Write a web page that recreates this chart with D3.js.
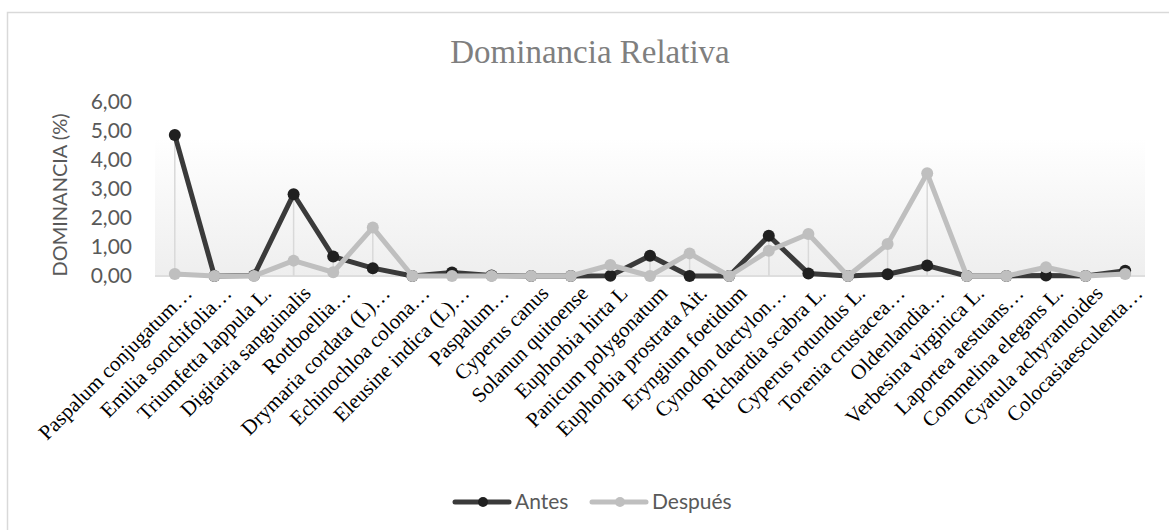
<!DOCTYPE html>
<html>
<head>
<meta charset="utf-8">
<script src="https://cdn.jsdelivr.net/npm/d3@7"></script>
<style>
  body { margin: 0; background: #fff; }
  svg { display: block; }
</style>
</head>
<body>
<div id="chart"></div>
<script>
// species (x categories)
const especies = [
  "Paspalum conjugatum…", "Emilia sonchifolia…", "Triumfetta lappula L.", "Digitaria sanguinalis",
  "Rottboellia…", "Drymaria cordata (L)…", "Echinochloa colona…", "Eleusine indica (L)…",
  "Paspalum…", "Cyperus canus", "Solanun quitoense", "Euphorbia hirta L",
  "Panicum polygonatum", "Euphorbia prostrata Ait.", "Eryngium foetidum", "Cynodon dactylon…",
  "Richardia scabra L.", "Cyperus rotundus L.", "Torenia crustacea…", "Oldenlandia…",
  "Verbesina virginica L.", "Laportea aestuans…", "Commelina elegans L.", "Cyatula achyrantoides",
  "Colocasiaesculenta…"
];
// dominancia relativa (%)
const antes = [4.86, 0.00, 0.02, 2.82, 0.67, 0.27, 0.00, 0.12, 0.02, 0.00, 0.00, 0.01,
  0.70, 0.00, 0.00, 1.39, 0.09, 0.00, 0.06, 0.36, 0.00, 0.00, 0.02, 0.00, 0.18];
const despues = [0.07, 0.00, 0.00, 0.53, 0.13, 1.67, 0.00, 0.00, 0.00, 0.00, 0.00, 0.38,
  0.00, 0.78, 0.00, 0.87, 1.45, 0.00, 1.10, 3.54, 0.00, 0.00, 0.30, 0.00, 0.07];
const yTicks = [0, 1, 2, 3, 4, 5, 6];

const W = 1169, H = 530;
const plot = {left: 155, right: 1145, top: 102, bottom: 276};

const svg = d3.select("#chart").append("svg")
  .attr("width", W).attr("height", H);

// chart frame
svg.append("rect")
  .attr("x", 7.5).attr("y", 12.5)
  .attr("width", 1400).attr("height", 800)
  .attr("fill", "#fff").attr("stroke", "#d9d9d9").attr("stroke-width", 1.5);

const x = d3.scalePoint().domain(especies)
  .range([plot.left, plot.right]).padding(0.5);
const y = d3.scaleLinear().domain([0, 6]).range([plot.bottom, plot.top]);

// plot area gradient
const defs = svg.append("defs");
const grad = defs.append("linearGradient").attr("id", "bg")
  .attr("x1", 0).attr("y1", 0).attr("x2", 0).attr("y2", 1);
grad.append("stop").attr("offset", "0%").attr("stop-color", "#ffffff");
grad.append("stop").attr("offset", "100%").attr("stop-color", "#eeeeee");

svg.append("rect")
  .attr("x", plot.left).attr("y", 138)
  .attr("width", plot.right - plot.left).attr("height", plot.bottom - 138 + 1)
  .attr("fill", "url(#bg)");

// title
svg.append("text")
  .attr("x", 590).attr("y", 63)
  .attr("text-anchor", "middle")
  .style("font-family", "'Liberation Serif', 'Times New Roman', serif")
  .style("font-size", "33px")
  .attr("fill", "#7f7f7f")
  .text("Dominancia Relativa");

// y axis
const yAxis = svg.append("g")
  .attr("transform", `translate(${plot.left},0)`)
  .call(d3.axisLeft(y).tickValues(yTicks).tickSize(0).tickPadding(23)
    .tickFormat(d => d3.format(".2f")(d).replace(".", ",")));
yAxis.select(".domain").remove();
yAxis.selectAll("text")
  .style("font-family", "Lato, 'Open Sans', sans-serif")
  .style("font-size", "21px")
  .attr("fill", "#595959");

svg.append("text")
  .attr("transform", `translate(67,195) rotate(-90)`)
  .attr("text-anchor", "middle")
  .style("font-family", "Lato, 'Open Sans', sans-serif")
  .style("font-size", "20px")
  .attr("fill", "#595959")
  .text("DOMINANCIA (%)");

// drop lines
const series = [
  {name: "Antes", values: antes, line: "#3a3a3a", dot: "#202020"},
  {name: "Después", values: despues, line: "#bfbfbf", dot: "#bfbfbf"}
];
series.forEach(s => {
  svg.append("g").selectAll("line")
    .data(s.values)
    .join("line")
    .attr("x1", (d, i) => x(especies[i])).attr("x2", (d, i) => x(especies[i]))
    .attr("y1", d => y(d)).attr("y2", y(0))
    .attr("stroke", "#d9d9d9").attr("stroke-width", 1.5);
});

// baseline
svg.append("line")
  .attr("x1", plot.left).attr("x2", plot.right)
  .attr("y1", y(0)).attr("y2", y(0))
  .attr("stroke", "#d9d9d9").attr("stroke-width", 1.5);

// x labels
svg.append("g").selectAll("text")
  .data(especies)
  .join("text")
  .attr("transform", d => `translate(${x(d) + 8},${y(0) + 8}) rotate(-45)`)
  .attr("text-anchor", "end")
  .attr("dy", "0.71em")
  .style("font-family", "'Liberation Serif', 'Times New Roman', serif")
  .style("font-size", "21px")
  .attr("fill", "#000")
  .text(d => d);

// lines and markers
const line = d3.line()
  .x((d, i) => x(especies[i]))
  .y(d => y(d));

series.forEach(s => {
  svg.append("path")
    .datum(s.values)
    .attr("d", line)
    .attr("fill", "none")
    .attr("stroke", s.line)
    .attr("stroke-width", 5)
    .attr("stroke-linejoin", "round");
  svg.append("g").selectAll("circle")
    .data(s.values)
    .join("circle")
    .attr("cx", (d, i) => x(especies[i]))
    .attr("cy", d => y(d))
    .attr("r", 6)
    .attr("fill", s.dot);
});

// legend
const legend = svg.append("g").attr("transform", "translate(0,502)");
const legendItems = [
  {x: 455, s: series[0]},
  {x: 592, s: series[1]}
];
legendItems.forEach(it => {
  legend.append("line")
    .attr("x1", it.x).attr("x2", it.x + 54)
    .attr("stroke", it.s.line).attr("stroke-width", 5)
    .attr("stroke-linecap", "round");
  legend.append("circle")
    .attr("cx", it.x + 28).attr("r", 5)
    .attr("fill", it.s.dot);
  legend.append("text")
    .attr("x", it.x + 60).attr("dy", "0.35em")
    .style("font-family", "Lato, 'Open Sans', sans-serif")
    .style("font-size", "21px")
    .attr("fill", "#595959")
    .text(it.s.name);
});
</script>
</body>
</html>
